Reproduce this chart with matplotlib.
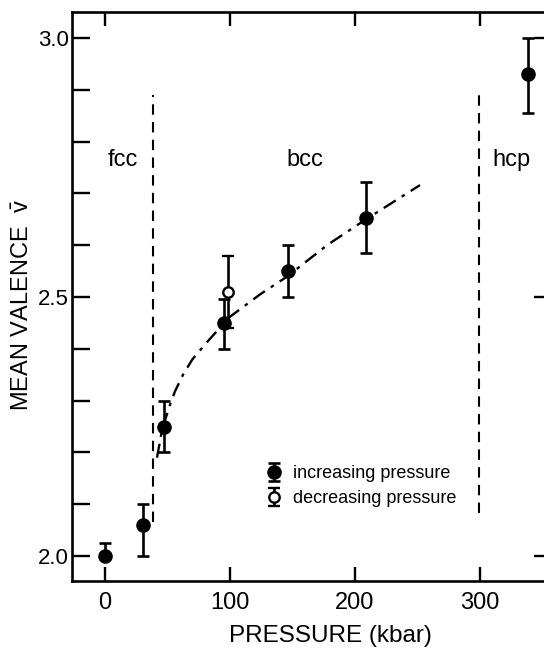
import numpy as np
import matplotlib.pyplot as plt
from matplotlib.ticker import MultipleLocator

plt.rcParams['font.family'] = ['Liberation Sans', 'DejaVu Sans']
plt.rcParams['mathtext.fontset'] = 'custom'
plt.rcParams['mathtext.rm'] = 'Liberation Sans'

# data
p_inc = [0, 30, 47, 95, 146, 209, 338]
v_inc = [2.00, 2.06, 2.25, 2.45, 2.55, 2.652, 2.93]
err_lo = [0.0, 0.06, 0.05, 0.05, 0.05, 0.068, 0.075]
err_hi = [0.025, 0.04, 0.05, 0.047, 0.05, 0.07, 0.07]

p_dec = [98.5]
v_dec = [2.51]
err_dec = [0.07]

# dash-dot guide curve
p_fit = [41.6, 45, 48, 52, 56, 62.4, 70, 81.6, 100, 124, 146, 177.6, 208.8, 252]
v_fit = [2.19, 2.235, 2.262, 2.292, 2.318, 2.35, 2.38, 2.413, 2.462, 2.505, 2.54, 2.60, 2.65, 2.716]

# phase boundaries
bounds = [38, 299]
bound_lo = [2.065, 2.083]
bound_hi = [2.89, 2.90]
phases = ['fcc', 'bcc', 'hcp']
phase_x = [14.4, 160, 325]
phase_y = 2.752

fig = plt.figure(figsize=(5.44, 6.49), dpi=100)
ax = fig.add_axes([72 / 544, 68 / 649, 480 / 544, 569 / 649])

ax.plot(p_fit, v_fit, color='black', lw=1.7, ls=(0, (6, 3, 1.5, 3)))

for b, lo, hi in zip(bounds, bound_lo, bound_hi):
    ax.plot([b, b], [lo, hi], color='black', lw=1.5, ls=(0, (5, 3.5)))

h1 = ax.errorbar(p_inc, v_inc, yerr=[err_lo, err_hi], fmt='o', color='black',
                 ms=9.5, elinewidth=1.9, capsize=4.5, capthick=1.9)
h2 = ax.errorbar(p_dec, v_dec, yerr=err_dec, fmt='o', color='black', mfc='white',
                 mew=1.7, ms=7.5, elinewidth=1.9, capsize=4.5, capthick=1.9)

for name, x in zip(phases, phase_x):
    ax.text(x, phase_y, name, fontsize=17, ha='center', va='baseline')

leg = ax.legend([h1, h2], ['increasing pressure', 'decreasing pressure'],
                loc='upper left', bbox_to_anchor=(187 / 480, (581 - 456) / 569),
                frameon=False, fontsize=13, handlelength=0.7, handletextpad=0.7,
                labelspacing=0.45, borderpad=0)

ax.set_xlim(-26.4, 357.6)
ax.set_ylim(1.952, 3.050)
ax.set_xticks([0, 100, 200, 300])
ax.set_yticks([2.0, 2.5, 3.0])
ax.set_yticklabels(['2.0', '2.5', '3.0'])
ax.yaxis.set_minor_locator(MultipleLocator(0.1))
ax.tick_params(axis='both', which='both', direction='in', width=1.7)
ax.tick_params(axis='x', length=10, labelsize=17, pad=8, top=True)
ax.tick_params(axis='y', which='major', length=13, labelsize=16, pad=2, right=True)
ax.tick_params(axis='y', which='minor', length=13, left=True, right=False)
for s in ax.spines.values():
    s.set_linewidth(1.9)

ax.set_xlabel('PRESSURE (kbar)', fontsize=17.5)
ax.xaxis.set_label_coords(0.5375, -0.077)
ax.set_ylabel(r'MEAN VALENCE  $\bar{\mathrm{v}}$', fontsize=17)
ax.yaxis.set_label_coords(-0.08, 0.485)

fig.savefig('out.png', dpi=100)
